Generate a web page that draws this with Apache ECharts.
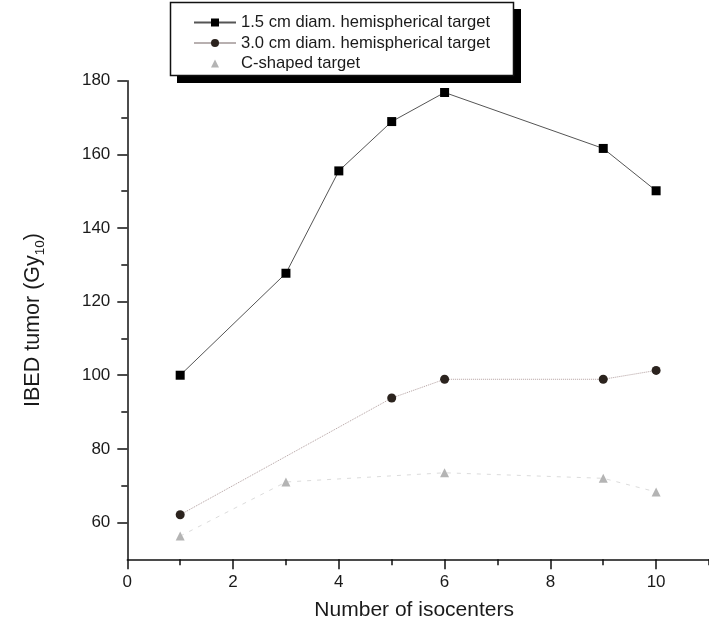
<!DOCTYPE html>
<html>
<head>
<meta charset="utf-8">
<script src="https://cdn.jsdelivr.net/npm/echarts@6/dist/echarts.min.js"></script>
<style>
  html, body { margin: 0; padding: 0; background: #fff; }
  #chart { width: 709px; height: 631px; }
</style>
</head>
<body>
<div id="chart"></div>
<script>
// Number of isocenters vs. IBED tumor dose for three target shapes
const seriesNames = [
  '1.5 cm diam. hemispherical target',
  '3.0 cm diam. hemispherical target',
  'C-shaped target'
];
const isoSmall = [1, 3, 4, 5, 6, 9, 10];
const ibedSmall = [100, 127.7, 155.5, 168.9, 176.8, 161.6, 150.1];
const isoLarge = [1, 5, 6, 9, 10];
const ibedLarge = [62.1, 93.8, 98.9, 98.9, 101.3];
const isoCShape = [1, 3, 6, 9, 10];
const ibedCShape = [56.3, 71.0, 73.5, 72.0, 68.3];

// axis ticks
const xMajorTicks = [0, 2, 4, 6, 8, 10];
const xMinorTicks = [1, 3, 5, 7, 9, 11];
const yMajorTicks = [60, 80, 100, 120, 140, 160, 180];
const yMinorTicks = [70, 90, 110, 130, 150, 170];

const pairs = (xs, ys) => xs.map((x, i) => [x, ys[i]]);

const font = 'Liberation Sans, Arial, Helvetica, sans-serif';
const axisColor = '#111';

const chart = echarts.init(document.getElementById('chart'), null, { renderer: 'canvas' });

const baseX = {
  type: 'value', min: 0, max: 11, position: 'bottom',
  splitLine: { show: false }
};
const baseY = {
  type: 'value', min: 50, max: 180, position: 'left',
  splitLine: { show: false }
};

chart.setOption({
  backgroundColor: '#fff',
  animation: false,
  grid: { left: 127.3, right: -7.2, top: 80.7, bottom: 71.7, containLabel: false },
  // legend frame with a solid drop shadow
  graphic: [
    { type: 'rect', z: 0, silent: true, shape: { x: 177, y: 9, width: 344, height: 74 }, style: { fill: '#000' } },
    { type: 'rect', z: 1, silent: true, shape: { x: 170.5, y: 2.5, width: 343, height: 73 }, style: { fill: '#fff', stroke: '#111', lineWidth: 1.5 } }
  ],
  legend: {
    orient: 'vertical',
    left: 170, top: 2, z: 5,
    padding: [12, 20, 5, 23],
    itemWidth: 42, itemHeight: 10, itemGap: 3.5,
    backgroundColor: 'transparent', borderWidth: 0,
    textStyle: { fontFamily: font, fontSize: 16.6, lineHeight: 17, color: '#1a1a1a' },
    data: [
      { name: seriesNames[0] },
      { name: seriesNames[1], lineStyle: { color: '#b8b0b0', type: 'solid' } },
      { name: seriesNames[2], lineStyle: { opacity: 0 } }
    ]
  },
  xAxis: [
    Object.assign({}, baseX, {
      name: 'Number of isocenters',
      nameLocation: 'middle', nameGap: 40,
      nameTextStyle: { fontFamily: font, fontSize: 21, color: '#1a1a1a', padding: [0, 8, 0, 0] },
      axisLine: { show: true, lineStyle: { color: axisColor, width: 1.5 } },
      axisTick: { show: true, inside: false, length: 10, customValues: xMajorTicks, lineStyle: { color: axisColor, width: 1.5 } },
      axisLabel: { show: true, margin: 15, customValues: xMajorTicks, fontFamily: font, fontSize: 17, color: '#1a1a1a' }
    }),
    Object.assign({}, baseX, {
      axisLine: { show: false },
      axisTick: { show: true, inside: false, length: 6, customValues: xMinorTicks, lineStyle: { color: axisColor, width: 1.5 } },
      axisLabel: { show: false }
    })
  ],
  yAxis: [
    Object.assign({}, baseY, {
      name: '{t|IBED tumor (Gy}{s|10}{t|)}',
      nameLocation: 'middle', nameGap: 80,
      nameTextStyle: {
        fontFamily: font, color: '#1a1a1a',
        rich: {
          t: { fontFamily: font, fontSize: 21.5, lineHeight: 28, verticalAlign: 'middle', color: '#1a1a1a' },
          s: { fontFamily: font, fontSize: 13.5, lineHeight: 13, verticalAlign: 'bottom', color: '#1a1a1a' }
        }
      },
      axisLine: { show: true, lineStyle: { color: axisColor, width: 1.5 } },
      axisTick: { show: true, inside: false, length: 10, customValues: yMajorTicks, lineStyle: { color: axisColor, width: 1.5 } },
      axisLabel: { show: true, margin: 17, customValues: yMajorTicks, fontFamily: font, fontSize: 17, color: '#1a1a1a' }
    }),
    Object.assign({}, baseY, {
      axisLine: { show: false },
      axisTick: { show: true, inside: false, length: 6, customValues: yMinorTicks, lineStyle: { color: axisColor, width: 1.5 } },
      axisLabel: { show: false }
    })
  ],
  series: [
    {
      name: seriesNames[0], type: 'line', xAxisIndex: 0, yAxisIndex: 0,
      data: pairs(isoSmall, ibedSmall),
      symbol: 'rect', symbolSize: 9,
      itemStyle: { color: '#000' },
      lineStyle: { color: '#555', width: 1, type: 'solid' },
      z: 4
    },
    {
      name: seriesNames[1], type: 'line', xAxisIndex: 0, yAxisIndex: 0,
      data: pairs(isoLarge, ibedLarge),
      symbol: 'circle', symbolSize: 9,
      itemStyle: { color: '#2b231e' },
      lineStyle: { color: '#b29f9f', width: 1, type: 'dotted' },
      z: 3
    },
    {
      name: seriesNames[2], type: 'line', xAxisIndex: 0, yAxisIndex: 0,
      data: pairs(isoCShape, ibedCShape),
      symbol: 'triangle', symbolSize: 9,
      itemStyle: { color: '#b4b4b4' },
      lineStyle: { color: '#dcdcdc', width: 1, type: [4, 6] },
      z: 2
    }
  ]
});
</script>
</body>
</html>
